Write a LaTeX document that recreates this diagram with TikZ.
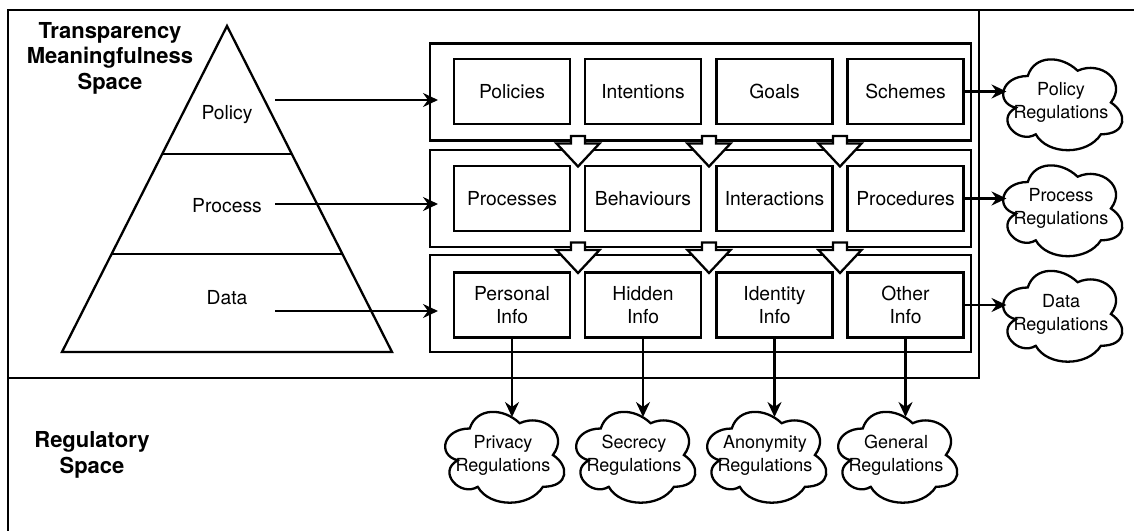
\documentclass[tikz,border=0pt]{standalone}
\usepackage{fontspec}
\setmainfont{TeX Gyre Heros}
\usetikzlibrary{arrows.meta,calc}
\tikzset{
  lw/.style={line width=2.3pt},
  itembox/.style={draw, lw, inner sep=0pt, outer sep=0pt, minimum width=116pt, minimum height=65pt,
    align=center, font=\fontsize{19.3}{23}\selectfont},
  rowbox/.style={draw, lw, inner sep=0pt, outer sep=0pt, minimum width=541pt, minimum height=97pt},
  cloudnode/.style={inner sep=0pt, outer sep=0pt, minimum width=133pt, minimum height=106pt,
    align=center, font=\fontsize{18}{23}\selectfont},
  lvl/.style={inner sep=0pt, font=\fontsize{19.3}{23}\selectfont},
  title/.style={inner sep=0pt, align=center, font=\fontsize{22}{25.5}\selectfont\bfseries},
  arr/.style={lw, -{Stealth[length=15pt, width=14pt, inset=5pt]}},
  hollowarrow/.style={lw, fill=white, line join=miter},
}
\newcommand\regcloud[1]{%
  \begin{scope}[shift={(#1.north west)}, x=133pt, y=-106pt]
    \draw[lw] (0.25,0.25) .. controls (0.05,0.25) and (0,0.5) .. (0.16,0.55)
      .. controls (0,0.66) and (0.18,0.9) .. (0.31,0.8)
      .. controls (0.4,1) and (0.7,1) .. (0.8,0.8)
      .. controls (1,0.8) and (1,0.6) .. (0.875,0.5)
      .. controls (1,0.3) and (0.8,0.1) .. (0.625,0.2)
      .. controls (0.5,0.05) and (0.3,0.05) .. (0.25,0.25) -- cycle;
  \end{scope}}
\newcommand\hollowdown[1]{%
  \begin{scope}[shift={(#1)}]
    \draw[hollowarrow] (-7,-7.5) -- (7,-7.5) -- (7,0) -- (21.5,0) -- (0,23) -- (-21.5,0) -- (-7,0) -- cycle;
  \end{scope}}
\begin{document}
\begin{tikzpicture}[x=1pt, y=-1pt]
\useasboundingbox (0,0) rectangle (1134,530);

% outer frame (right and bottom edges lie outside the picture)
\draw[lw] (1140,10) -- (8,10) -- (8,540);
% transparency meaningfulness space
\draw[lw] (8,10) rectangle (979,378);

% titles
\node[title] (tms) at (110,58) {Transparency\\Meaningfulness\\Space};
\node[title] (rs) at (92,455) {Regulatory\\Space};

% pyramid
\draw[lw, line join=miter] (227,26) -- (392,352) -- (62,352) -- cycle;
\draw[lw] (162.3,154) -- (291.7,154);
\draw[lw] (111.6,254) -- (342.4,254);
\node[lvl] (lpol) at (227,115) {Policy};
\node[lvl] (lpro) at (227,206) {Process};
\node[lvl] (ldat) at (227,298) {Data};

% row boxes
\node[rowbox] (r1) at (700.5,92) {};
\node[rowbox] (r2) at (700.5,198.5) {};
\node[rowbox] (r3) at (700.5,303.5) {};

% item boxes
\node[itembox] (pol) at (512,91.5) {Policies};
\node[itembox] (int) at (643,91.5) {Intentions};
\node[itembox] (goa) at (774.5,91.5) {Goals};
\node[itembox] (sch) at (905.5,91.5) {Schemes};

\node[itembox] (prc) at (512,198.5) {Processes};
\node[itembox] (beh) at (643,198.5) {Behaviours};
\node[itembox] (ita) at (774.5,198.5) {Interactions};
\node[itembox] (prd) at (905.5,198.5) {Procedures};

\node[itembox] (per) at (512,305) {Personal\\Info};
\node[itembox] (hid) at (643,305) {Hidden\\Info};
\node[itembox] (ide) at (774.5,305) {Identity\\Info};
\node[itembox] (oth) at (905.5,305) {Other\\Info};

% hollow arrows between rows
\hollowdown{578,143.5}
\hollowdown{709,143.5}
\hollowdown{840,143.5}
\hollowdown{578,250}
\hollowdown{709,250}
\hollowdown{840,250}

% pyramid arrows
\coordinate (pa1) at (275,100);
\coordinate (pa2) at (275,204);
\coordinate (pa3) at (275,311);
\draw[arr] (pa1) -- ([xshift=8pt]pa1 -| r1.west);
\draw[arr] (pa2) -- ([xshift=8pt]pa2 -| r2.west);
\draw[arr] (pa3) -- ([xshift=8pt]pa3 -| r3.west);

% right clouds
\node[cloudnode] (cpol) at (1061,102.5) {Policy\\Regulations};
\node[cloudnode] (cpro) at (1061,208.5) {Process\\Regulations};
\node[cloudnode] (cdat) at (1061,314) {Data\\Regulations};
\regcloud{cpol}
\regcloud{cpro}
\regcloud{cdat}
\draw[arr] (sch.east) -- ([xshift=12pt]sch.east -| cpol.west);
\draw[arr] (prd.east) -- ([xshift=12pt]prd.east -| cpro.west);
\draw[arr] (oth.east) -- ([xshift=12pt]oth.east -| cdat.west);

% bottom clouds
\node[cloudnode] (cpri) at (503,455) {Privacy\\Regulations};
\node[cloudnode] (csec) at (634,455) {Secrecy\\Regulations};
\node[cloudnode] (cano) at (765,455) {Anonymity\\Regulations};
\node[cloudnode] (cgen) at (896,455) {General\\Regulations};
\regcloud{cpri}
\regcloud{csec}
\regcloud{cano}
\regcloud{cgen}
\draw[arr] (per.south) -- ([yshift=-15pt]per.south |- cpri.north);
\draw[arr] (hid.south) -- ([yshift=-15pt]hid.south |- csec.north);
\draw[arr] (ide.south) -- ([yshift=-15pt]ide.south |- cano.north);
\draw[arr] (oth.south) -- ([yshift=-15pt]oth.south |- cgen.north);
\end{tikzpicture}
\end{document}
